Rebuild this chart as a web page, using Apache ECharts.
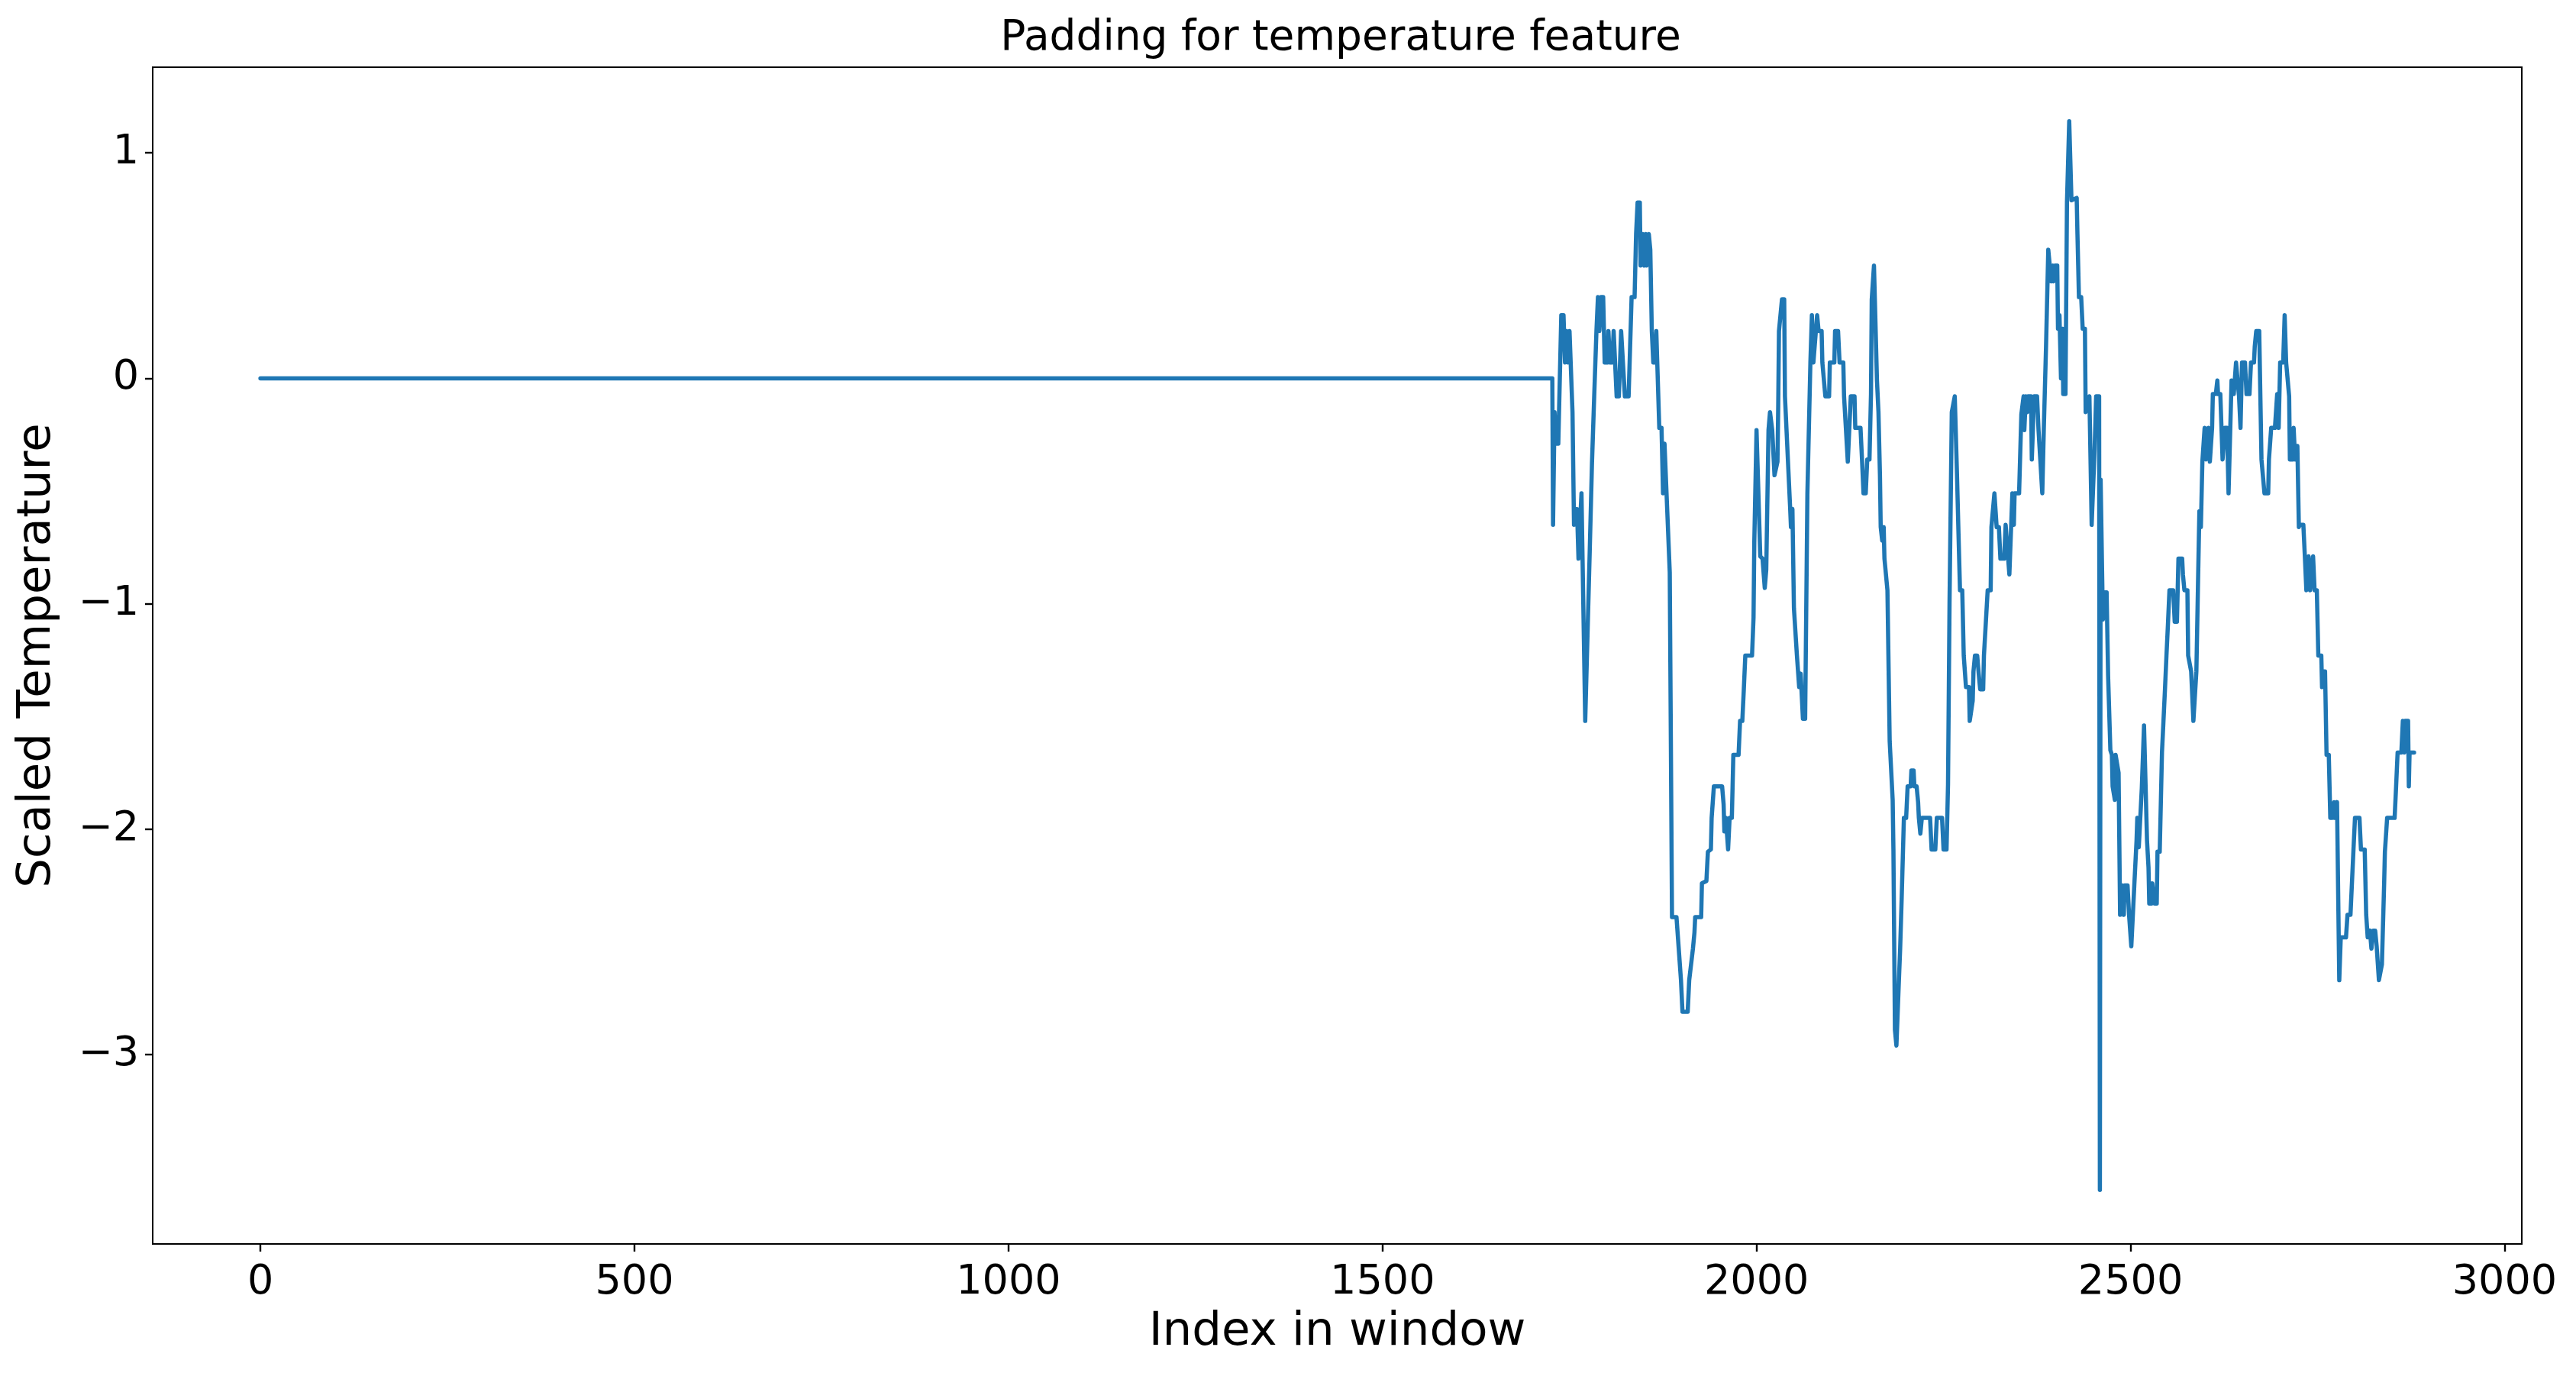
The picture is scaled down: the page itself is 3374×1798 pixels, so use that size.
<!DOCTYPE html>
<html>
<head>
<meta charset="utf-8">
<title>Padding for temperature feature</title>
<script src="https://cdn.jsdelivr.net/npm/echarts@6.0.0/dist/echarts.min.js"></script>
<style>
  html, body { margin: 0; padding: 0; background: #fff; }
  #chart { width: 3374px; height: 1798px; }
</style>
</head>
<body>
<div id="chart"></div>
<script>
// index in window (x) and scaled temperature (y)
var windowIndex = [
  0, 1727, 1728, 1730, 1732, 1735, 1739, 1742, 1744, 1746, 1748, 1750, 1751, 1754, 1756, 1758, 1760, 1762, 1765, 1766,
  1771, 1777, 1780, 1783, 1786, 1788, 1790, 1792, 1795, 1797, 1801, 1802, 1804, 1807, 1809, 1811, 1813, 1816, 1819, 1821,
  1824, 1829, 1833, 1837, 1839, 1841, 1844, 1845, 1848, 1850, 1852, 1853, 1856, 1858, 1860, 1862, 1865, 1866, 1868, 1870,
  1873, 1875, 1877, 1878, 1884, 1887, 1893, 1896, 1899, 1901, 1908, 1910, 1912, 1915, 1917, 1918, 1922, 1926, 1927, 1933,
  1935, 1939, 1940, 1943, 1954, 1956, 1957, 1959, 1962, 1964, 1967, 1968, 1969, 1976, 1978, 1981, 1983, 1985, 1994, 1996,
  1997, 2000, 2002, 2005, 2008, 2011, 2013, 2016, 2018, 2021, 2024, 2025, 2028, 2029, 2030, 2032, 2034, 2037, 2038, 2040,
  2045, 2046, 2048, 2050, 2054, 2056, 2057, 2059, 2062, 2065, 2068, 2072, 2074, 2076, 2078, 2081, 2083, 2087, 2088, 2090,
  2092, 2097, 2098, 2104, 2105, 2109, 2111, 2116, 2117, 2119, 2122, 2124, 2126, 2131, 2132, 2139, 2141, 2143, 2146, 2148,
  2151, 2153, 2154, 2155, 2157, 2159, 2161, 2163, 2164, 2165, 2166, 2168, 2170, 2171, 2173, 2175, 2177, 2178, 2182, 2183,
  2185, 2187, 2189, 2190, 2192, 2194, 2197, 2200, 2202, 2206, 2207, 2210, 2211, 2214, 2216, 2217, 2219, 2221, 2232, 2234,
  2239, 2241, 2248, 2250, 2254, 2256, 2258, 2261, 2263, 2265, 2267, 2268, 2270, 2272, 2275, 2277, 2279, 2280, 2284, 2285,
  2287, 2289, 2290, 2292, 2295, 2297, 2299, 2303, 2304, 2306, 2309, 2313, 2314, 2315, 2318, 2319, 2321, 2324, 2326, 2327,
  2331, 2333, 2335, 2338, 2340, 2342, 2344, 2345, 2351, 2354, 2357, 2358, 2360, 2362, 2363, 2367, 2368, 2371, 2375, 2377,
  2379, 2382, 2384, 2386, 2387, 2390, 2392, 2394, 2396, 2397, 2399, 2402, 2403, 2405, 2407, 2408, 2409, 2410, 2413, 2415,
  2418, 2420, 2421, 2428, 2429, 2430, 2431, 2434, 2436, 2439, 2440, 2445, 2447, 2448, 2450, 2452, 2454, 2458, 2459, 2460,
  2462, 2463, 2465, 2468, 2470, 2473, 2475, 2476, 2477, 2479, 2480, 2482, 2484, 2486, 2487, 2489, 2491, 2492, 2496, 2498,
  2501, 2503, 2505, 2508, 2509, 2511, 2513, 2515, 2518, 2520, 2522, 2524, 2525, 2528, 2529, 2531, 2532, 2535, 2536, 2539,
  2542, 2544, 2546, 2548, 2550, 2552, 2557, 2559, 2562, 2564, 2569, 2570, 2571, 2572, 2576, 2577, 2581, 2584, 2586, 2588,
  2590, 2592, 2594, 2596, 2599, 2601, 2604, 2606, 2609, 2610, 2614, 2616, 2617, 2620, 2623, 2625, 2626, 2629, 2631, 2633,
  2635, 2637, 2638, 2641, 2643, 2645, 2647, 2648, 2649, 2653, 2655, 2659, 2661, 2665, 2666, 2668, 2672, 2675, 2677, 2679,
  2684, 2685, 2688, 2693, 2696, 2698, 2700, 2704, 2706, 2708, 2712, 2713, 2717, 2718, 2720, 2723, 2725, 2726, 2731, 2733,
  2735, 2738, 2740, 2744, 2746, 2749, 2751, 2755, 2756, 2757, 2760, 2762, 2765, 2767, 2770, 2772, 2773, 2776, 2779, 2781,
  2788, 2790, 2794, 2798, 2800, 2806, 2808, 2813, 2815, 2817, 2820, 2822, 2824, 2827, 2829, 2832, 2834, 2836, 2839, 2840,
  2842, 2843, 2853, 2855, 2857, 2862, 2864, 2866, 2867, 2871, 2872, 2873, 2879
];
var scaledTemp = [
  0, 0, -0.65, -0.15, -0.29, -0.29, 0.28, 0.28, 0.07, 0.21, 0.07, 0.21, 0.21, -0.15, -0.65, -0.65, -0.58, -0.80, -0.58, -0.51,
  -1.52, -0.77, -0.38, -0.08, 0.21, 0.36, 0.21, 0.36, 0.36, 0.07, 0.07, 0.21, 0.07, 0.07, 0.21, 0.21, -0.08, -0.08, 0.21, 0.21,
  -0.08, -0.08, 0.36, 0.36, 0.64, 0.78, 0.78, 0.50, 0.64, 0.50, 0.64, 0.50, 0.64, 0.57, 0.21, 0.07, 0.07, 0.21, 0.21, -0.22,
  -0.22, -0.51, -0.29, -0.29, -0.86, -2.39, -2.39, -2.53, -2.67, -2.81, -2.81, -2.67, -2.67, -2.53, -2.46, -2.39, -2.39, -2.39, -2.24, -2.23,
  -2.10, -2.09, -1.95, -1.81, -1.81, -1.89, -2.01, -1.95, -2.09, -1.95, -1.95, -1.81, -1.67, -1.67, -1.52, -1.52, -1.38, -1.23, -1.23, -1.06,
  -0.73, -0.23, -0.23, -0.79, -0.80, -0.93, -0.85, -0.23, -0.15, -0.23, -0.43, -0.43, -0.37, -0.12, 0.21, 0.21, 0.35, 0.35, -0.08, -0.08,
  -0.58, -0.66, -0.58, -1.02, -1.23, -1.23, -1.37, -1.31, -1.51, -1.51, -0.51, 0.07, 0.28, 0.07, 0.07, 0.28, 0.21, 0.21, 0.07, 0.07,
  -0.08, -0.08, 0.07, 0.07, 0.21, 0.21, 0.07, 0.07, -0.08, -0.08, -0.37, -0.37, -0.08, -0.08, -0.22, -0.22, -0.36, -0.51, -0.51, -0.36,
  -0.36, -0.07, 0.35, 0.35, 0.50, 0.50, -0.01, -0.15, -0.15, -0.43, -0.66, -0.72, -0.66, -0.80, -0.80, -0.94, -0.94, -1.61, -1.87, -2.09,
  -2.89, -2.96, -2.96, -2.70, -2.53, -2.31, -1.95, -1.95, -1.81, -1.81, -1.74, -1.74, -1.81, -1.81, -1.88, -1.95, -2.02, -1.95, -1.95, -2.09,
  -2.09, -1.95, -1.95, -2.09, -2.09, -1.80, -1.00, -0.15, -0.15, -0.08, -0.08, -0.43, -0.69, -0.94, -0.94, -1.23, -1.23, -1.37, -1.37, -1.52,
  -1.52, -1.43, -1.30, -1.23, -1.23, -1.31, -1.38, -1.38, -1.23, -1.23, -0.94, -0.94, -0.66, -0.66, -0.51, -0.51, -0.66, -0.66, -0.80, -0.80,
  -0.80, -0.65, -0.65, -0.87, -0.87, -0.51, -0.65, -0.51, -0.51, -0.16, -0.08, -0.23, -0.08, -0.15, -0.08, -0.08, -0.36, -0.08, -0.08, -0.23,
  -0.23, -0.51, -0.23, -0.23, 0.14, 0.57, 0.57, 0.43, 0.50, 0.43, 0.50, 0.50, 0.22, 0.28, 0.00, 0.00, 0.22, -0.07, -0.07, 0.78,
  1.14, 1.14, 0.79, 0.80, 0.64, 0.50, 0.36, 0.36, 0.22, 0.22, -0.15, -0.08, -0.08, -0.65, -0.65, -0.31, -0.08, -0.08, -3.60, -0.45,
  -0.45, -1.07, -0.95, -0.95, -1.32, -1.65, -1.67, -1.81, -1.81, -1.87, -1.67, -1.67, -1.75, -2.38, -2.38, -2.25, -2.38, -2.25, -2.25, -2.38,
  -2.52, -2.52, -2.25, -2.05, -1.95, -2.08, -2.08, -1.82, -1.54, -1.54, -2.05, -2.17, -2.33, -2.33, -2.24, -2.24, -2.33, -2.33, -2.10, -2.10,
  -1.66, -1.52, -1.38, -1.23, -1.09, -0.94, -0.94, -1.08, -1.08, -0.80, -0.80, -0.87, -0.87, -0.94, -0.94, -1.23, -1.30, -1.52, -1.52, -1.30,
  -0.94, -0.59, -0.66, -0.37, -0.22, -0.36, -0.22, -0.37, -0.22, -0.07, -0.07, -0.01, -0.07, -0.07, -0.36, -0.36, -0.22, -0.22, -0.51, -0.51,
  -0.01, -0.01, -0.07, 0.07, 0.07, -0.08, -0.22, -0.22, 0.07, 0.07, -0.07, -0.07, 0.07, 0.07, 0.14, 0.21, 0.21, -0.36, -0.36, -0.51,
  -0.51, -0.36, -0.22, -0.22, -0.07, -0.22, 0.07, 0.07, 0.28, 0.07, -0.08, -0.36, -0.36, -0.22, -0.36, -0.30, -0.66, -0.65, -0.65, -0.79,
  -0.94, -0.79, -0.94, -0.79, -0.94, -0.94, -1.23, -1.23, -1.37, -1.30, -1.30, -1.67, -1.67, -1.95, -1.95, -1.88, -1.95, -1.88, -2.67, -2.48,
  -2.48, -2.38, -2.38, -2.09, -1.95, -1.95, -2.09, -2.09, -2.38, -2.48, -2.45, -2.53, -2.45, -2.45, -2.52, -2.67, -2.67, -2.60, -2.24, -2.10,
  -2.10, -1.95, -1.95, -1.81, -1.66, -1.66, -1.52, -1.66, -1.52, -1.52, -1.81, -1.66, -1.66
];
var xTicks = [0, 500, 1000, 1500, 2000, 2500, 3000];
var yTicks = [-3, -2, -1, 0, 1];

var points = windowIndex.map(function (x, i) { return [x, scaledTemp[i]]; });

var myChart = echarts.init(document.getElementById('chart'));
var font = 'DejaVu Sans';

var option = {
  animation: false,
  backgroundColor: '#fff',
  title: {
    text: 'Padding for temperature feature',
    left: 1751,
    textAlign: 'center',
    top: 18,
    textStyle: { fontFamily: font, fontSize: 55, fontWeight: 'normal', color: '#000' }
  },
  grid: {
    left: 200, right: 71, top: 88, bottom: 169,
    show: true, borderColor: '#000', borderWidth: 2, backgroundColor: 'transparent'
  },
  xAxis: {
    type: 'value',
    min: -144, max: 3023,
    name: 'Index in window',
    nameLocation: 'middle',
    nameGap: 86,
    nameTextStyle: { fontFamily: font, fontSize: 61, color: '#000' },
    axisLine: { show: true, onZero: false, lineStyle: { color: '#000', width: 2 } },
    axisTick: { show: true, inside: false, length: 10, customValues: xTicks, lineStyle: { color: '#000', width: 2.4 } },
    axisLabel: {
      customValues: xTicks, margin: 24, fontFamily: font, fontSize: 54, color: '#000',
      formatter: function (v) { return String(v); }
    },
    splitLine: { show: false }
  },
  yAxis: {
    type: 'value',
    min: -3.84, max: 1.38,
    name: 'Scaled Temperature',
    nameLocation: 'middle',
    nameGap: 120,
    nameTextStyle: { fontFamily: font, fontSize: 61, color: '#000' },
    axisLine: { show: true, onZero: false, lineStyle: { color: '#000', width: 2 } },
    axisTick: { show: true, inside: false, length: 10, customValues: yTicks, lineStyle: { color: '#000', width: 2.4 } },
    axisLabel: {
      customValues: yTicks, margin: 18, fontFamily: font, fontSize: 54, color: '#000',
      formatter: function (v) { return String(v).replace('-', '\u2212'); }
    },
    splitLine: { show: false }
  },
  series: [{
    type: 'line',
    data: points,
    showSymbol: false,
    symbol: 'none',
    lineStyle: { color: '#1f77b4', width: 5.5, join: 'round', cap: 'round' }
  }]
};

myChart.setOption(option);
</script>
</body>
</html>
